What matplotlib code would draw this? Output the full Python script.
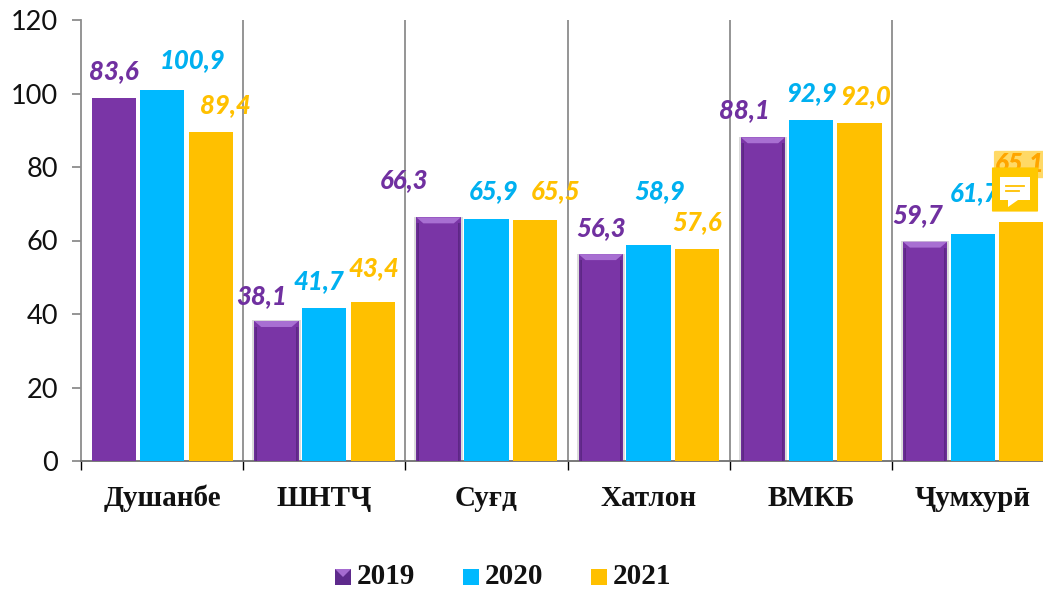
import matplotlib.pyplot as plt
import matplotlib.patches as patches
import numpy as np

categories = ['Душанбе', 'ШНТҶ', 'Суғд', 'Хатлон', 'ВМКБ', 'Ҷумхурӣ']
years = ['2019', '2020', '2021']
values_2019 = [98.8, 38.1, 66.3, 56.3, 88.1, 59.7]
values_2020 = [100.9, 41.7, 65.9, 58.9, 92.9, 61.7]
values_2021 = [89.4, 43.4, 65.5, 57.6, 92.0, 65.1]
labels_2019 = ['83,6', '38,1', '66,3', '56,3', '88,1', '59,7']
labels_2020 = ['100,9', '41,7', '65,9', '58,9', '92,9', '61,7']
labels_2021 = ['89,4', '43,4', '65,5', '57,6', '92,0', '65,1']

# label offsets from the bar top centre, in pixels
offsets_2019 = [(0, 27), (-15, 25), (-35, 37), (0, 26), (-19, 27), (-7, 27)]
offsets_2020 = [(30, 30), (-5, 27), (7, 28), (11, 53), (1, 27), (2, 41)]
offsets_2021 = [(15, 27), (1, 33), (21, 29), (0, 27), (6, 27), (-2, 59)]

colors = ['#7A35A6', '#00B9FF', '#FFC000']
label_colors = ['#7030A0', '#00B0F0', '#FFC000']
W, H = 1043, 589
bar_w = 0.274
shifts = [-0.295, 0, 0.30]

fig = plt.figure(figsize=(W / 100, H / 100), dpi=100)
fig.patch.set_facecolor('white')
ax = fig.add_axes([81 / W, 1 - 461 / H, 973 / W, 441 / H])
ax.set_xlim(0, 6)
ax.set_ylim(0, 120)
ax.patch.set_alpha(0)

for s in ['top', 'right']:
    ax.spines[s].set_visible(False)
ax.spines['left'].set_color('#8c8c8c')
ax.spines['left'].set_linewidth(1.3)
ax.spines['bottom'].set_color('#6e6e6e')
ax.spines['bottom'].set_linewidth(1.3)

ax.set_yticks(range(0, 121, 20))
ax.tick_params(axis='y', length=6.5, width=1.3, color='#8c8c8c', labelsize=19.5,
               labelcolor='#111111', pad=10)
ax.set_xticks(range(0, 7))
ax.set_xticklabels([])
ax.tick_params(axis='x', length=6.5, width=1, color='black')
for label in ax.get_yticklabels():
    label.set_family('Lato')

# gray separators between the regions
for x in range(1, 6):
    ax.axvline(x, color='#8c8c8c', lw=1.3, zorder=1)

x = np.arange(6) + 0.5
px_x = 6 / 973
px_y = 120 / 441
series = [values_2019, values_2020, values_2021]
labels = [labels_2019, labels_2020, labels_2021]
offsets = [offsets_2019, offsets_2020, offsets_2021]

for i in range(3):
    xs = x + shifts[i]
    ax.bar(xs, series[i], bar_w, color=colors[i], zorder=3, edgecolor='none')
    for j in range(6):
        ax.text(xs[j] + offsets[i][j][0] * px_x,
                series[i][j] + offsets[i][j][1] * px_y,
                labels[i][j], ha='center', va='center', fontsize=18.5,
                family='Lato', fontweight='black', fontstyle='italic',
                color=label_colors[i], zorder=5, clip_on=True)

# bevel on the purple bars, the first one stays flat
for j in range(1, 6):
    xc = x[j] + shifts[0]
    top = values_2019[j]
    left, right = xc - bar_w / 2, xc + bar_w / 2
    b = 7 * px_x
    ax.add_patch(patches.Polygon(
        [(left, top), (right, top), (right - b, top - 6 * px_y), (left + b, top - 6 * px_y)],
        closed=True, facecolor='#A86FD2', edgecolor='none', zorder=4))
    for k in range(1, 4):
        ax.add_patch(patches.Rectangle((left + (k - 1) * px_x, 0), (4 - k) * px_x / 1, top - 6 * px_y,
                                       facecolor='#4A1F70', alpha=0.25, edgecolor='none', zorder=4))
        ax.add_patch(patches.Rectangle((right - (4 - k) * px_x - (k - 1) * px_x, 0), (4 - k) * px_x, top - 6 * px_y,
                                       facecolor='#4A1F70', alpha=0.25, edgecolor='none', zorder=4))
    ax.add_patch(patches.Rectangle((left - 2 * px_x, -1.5 * px_y), bar_w + 4 * px_x, top + 2 * px_y,
                                   facecolor='#000000', alpha=0.14, edgecolor='none', zorder=2))

for j, name in enumerate(categories):
    ax.text(x[j], -37 * px_y, name, ha='center', va='center', fontsize=21,
            family=['Liberation Serif', 'DejaVu Serif'], fontweight='bold',
            color='#111111', clip_on=False)

# legend drawn by hand in figure pixels
legend_x = [335, 463, 591]
for i, yr in enumerate(years):
    lx = legend_x[i]
    fig.add_artist(patches.Rectangle((lx / W, 1 - 585 / H), 16 / W, 16 / H,
                                     transform=fig.transFigure,
                                     facecolor='#5E2A8C' if i == 0 else colors[i],
                                     edgecolor='none'))
    if i == 0:
        fig.add_artist(patches.Polygon(
            [(lx / W, 1 - 569 / H), ((lx + 16) / W, 1 - 569 / H), ((lx + 8) / W, 1 - 577 / H)],
            closed=True, transform=fig.transFigure, facecolor='#A56BD0', edgecolor='none'))
    fig.text((lx + 22) / W, 1 - 577 / H, yr, ha='left', va='center', fontsize=21,
             family='Liberation Serif', fontweight='bold', color='#111111')

# comment badge in the corner
fig.add_artist(patches.FancyBboxPatch((996 / W, 1 - 177 / H), 60 / W, 25 / H,
                                      boxstyle='round,pad=0.002', transform=fig.transFigure,
                                      facecolor='#FFC000', alpha=0.6, edgecolor='none', zorder=6))
fig.text(1020 / W, 1 - 163 / H, '65,1', ha='center', va='center', fontsize=18.5, family='Lato',
         fontweight='black', fontstyle='italic', color='#FF9F00', alpha=0.85, zorder=7)
fig.add_artist(patches.FancyBboxPatch((993 / W, 1 - 211 / H), 44 / W, 43 / H,
                                      boxstyle='round,pad=0.001', transform=fig.transFigure,
                                      facecolor='#FFC800', edgecolor='none', zorder=8))
fig.add_artist(patches.Polygon(
    [(1000 / W, 1 - 177 / H), (1030 / W, 1 - 177 / H), (1030 / W, 1 - 200 / H),
     (1018 / W, 1 - 200 / H), (1008 / W, 1 - 207 / H), (1008 / W, 1 - 200 / H), (1000 / W, 1 - 200 / H)],
    closed=True, transform=fig.transFigure, facecolor='white', edgecolor='none', zorder=9))
for yy, x0, x1 in [(186, 1006, 1024), (191, 1006, 1019)]:
    fig.add_artist(plt.Line2D([x0 / W, x1 / W], [1 - yy / H, 1 - yy / H], color='#FFC000', lw=1.3,
                              transform=fig.transFigure, zorder=10))

fig.savefig('out.png', dpi=100, facecolor='white')
plt.close()
